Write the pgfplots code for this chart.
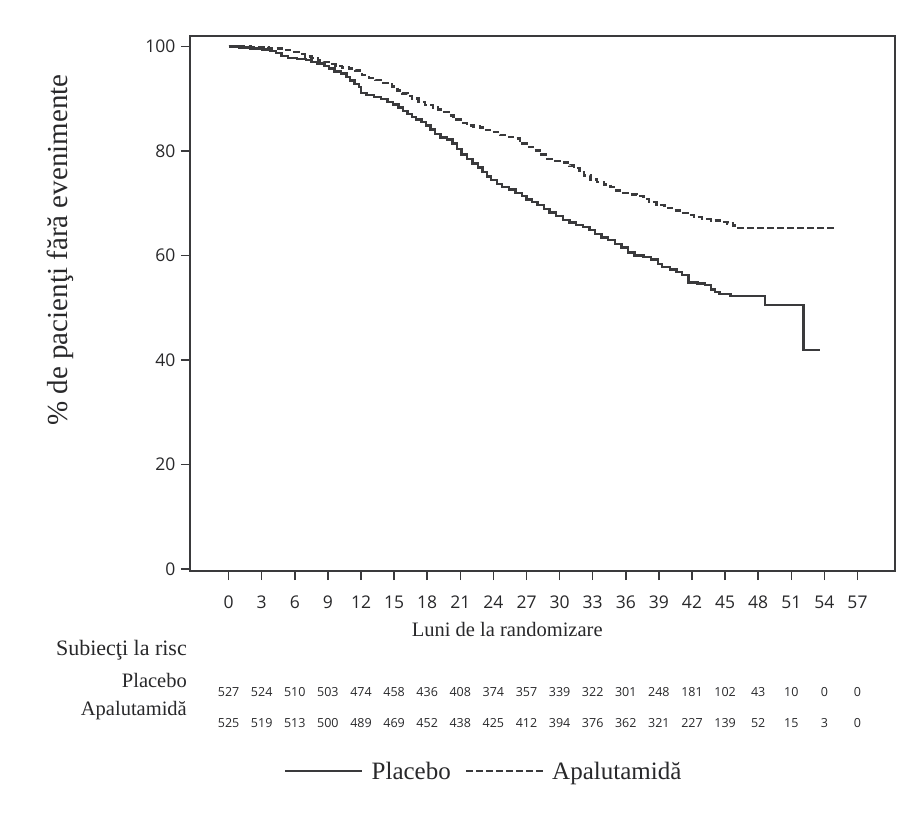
\documentclass[border=0pt]{standalone}
\usepackage{pgfplots}
\pgfplotsset{compat=1.18}
\usepackage{pgfplotstable}
\usepackage{fontspec}
\setmainfont{Liberation Serif}
\newfontfamily\numfont{Open Sans}

\definecolor{ink}{RGB}{58,58,60}
\definecolor{txt}{RGB}{40,40,42}

% Kaplan-Meier estimates (months, % event-free)
\pgfplotstableread{
m v
0 100
1.0 99.8
2.0 99.6
3.0 99.4
3.8 99.1
4.3 98.7
4.8 98.2
5.4 97.8
6.2 97.6
7.0 97.4
7.5 97.0
8.0 96.7
8.7 96.3
9.1 95.8
9.6 95.2
10.2 94.8
10.7 94.1
11.0 93.5
11.4 92.8
11.8 92.2
12.0 91.1
12.5 90.7
13.2 90.3
13.8 89.9
14.4 89.4
14.9 88.9
15.4 88.3
15.8 87.7
16.2 87.1
16.6 86.5
17.0 86.0
17.5 85.5
17.9 84.9
18.3 84.1
18.7 83.3
19.2 82.6
19.8 82.2
20.3 81.4
20.7 80.4
21.1 79.3
21.6 78.5
22.1 77.6
22.6 76.8
23.0 76.0
23.4 75.1
23.8 74.4
24.3 73.7
24.8 73.1
25.4 72.6
26.0 72.0
26.6 71.4
27.0 70.7
27.5 70.2
28.0 69.6
28.6 68.9
29.1 68.2
29.7 67.6
30.3 66.8
30.9 66.3
31.5 65.8
32.1 65.4
32.7 64.9
33.2 64.1
33.8 63.4
34.4 62.9
35.0 62.2
35.6 61.5
36.2 60.6
36.8 60.0
37.6 59.7
38.3 59.2
38.9 58.4
39.3 57.8
40.0 57.3
40.6 56.8
41.1 56.2
41.7 54.8
42.5 54.6
43.2 54.3
43.7 53.5
44.1 53.0
44.5 52.6
45.5 52.2
48.6 50.5
52.1 41.9
53.6 41.9
}\placebo

\pgfplotstableread{
m v
0 100
2.0 99.9
3.6 99.6
4.8 99.3
5.7 98.9
6.4 98.5
6.9 98.1
7.5 97.8
8.1 97.3
8.6 97.0
9.1 96.6
9.7 96.3
10.3 96.0
10.9 95.8
11.5 95.4
12.1 94.5
12.7 94.0
13.3 93.6
14.0 93.0
14.8 92.3
15.3 91.6
15.7 91.0
16.2 90.5
16.6 90.0
17.2 89.4
17.8 88.8
18.5 88.3
19.0 87.9
19.5 87.5
20.0 86.8
20.4 86.0
21.0 85.4
21.6 84.9
22.2 84.7
22.8 84.5
23.2 84.0
23.7 83.6
24.6 83.0
25.2 82.7
25.8 82.4
26.4 81.4
27.0 80.7
27.6 80.1
28.2 79.3
28.9 78.5
29.6 78.1
30.4 77.8
30.9 77.2
31.3 76.7
31.8 75.9
32.2 75.3
32.8 74.5
33.4 74.0
34.0 73.6
34.6 73.1
35.1 72.4
35.5 72.0
36.2 71.7
37.0 71.4
37.6 70.8
38.1 70.2
38.8 69.7
39.5 69.1
40.2 68.6
40.9 68.1
41.6 67.7
42.2 67.3
42.9 67.0
43.7 66.7
44.5 66.4
45.2 66.1
45.7 65.7
46.1 65.3
55.0 65.3
}\apalutamida

% Number at risk: month, placebo, apalutamida, row baselines
\pgfplotstableread{
m p a yp ya
0 527 525 -24.5 -30.4
3 524 519 -24.5 -30.4
6 510 513 -24.5 -30.4
9 503 500 -24.5 -30.4
12 474 489 -24.5 -30.4
15 458 469 -24.5 -30.4
18 436 452 -24.5 -30.4
21 408 438 -24.5 -30.4
24 374 425 -24.5 -30.4
27 357 412 -24.5 -30.4
30 339 394 -24.5 -30.4
33 322 376 -24.5 -30.4
36 301 362 -24.5 -30.4
39 248 321 -24.5 -30.4
42 181 227 -24.5 -30.4
45 102 139 -24.5 -30.4
48 43 52 -24.5 -30.4
51 10 15 -24.5 -30.4
54 0 3 -24.5 -30.4
57 0 0 -24.5 -30.4
}\risk

\begin{document}
\begin{tikzpicture}[x=1pt,y=1pt]
\path (0,0) rectangle (921,-816);
\begin{axis}[
  at={(190pt,-571pt)}, anchor=south west,
  scale only axis, width=705pt, height=535pt,
  xmin=-3.5, xmax=60.4, ymin=-0.4, ymax=102,
  xtick={0,3,...,57}, ytick={0,20,...,100},
  tick pos=left, tick align=outside,
  major tick length=9pt,
  axis line style={ink, line width=1.8pt},
  every tick/.style={ink, line width=1.5pt},
  /pgf/number format/assume math mode=true,
  ticklabel style={font=\numfont\fontsize{17.5}{17.5}\selectfont, text=txt},
  xticklabel style={yshift=-12pt},
  yticklabel style={xshift=-2pt},
  xlabel={Luni de la randomizare},
  xlabel style={at={(axis description cs:0.45,-0.110)}, anchor=center,
    font=\fontsize{20.5}{20.5}\selectfont, text=txt},
  ylabel={\% de pacienţi fără evenimente},
  ylabel style={at={(axis description cs:-0.184,0.6)}, anchor=center,
    font=\fontsize{29}{29}\selectfont, text=txt},
  clip=false,
  legend columns=2,
  legend style={at={(0.421,-0.374)}, anchor=center, draw=none, fill=none,
    font=\fontsize{25}{25}\selectfont, text=txt,
    nodes={inner xsep=8pt},
    /tikz/every even column/.append style={column sep=6pt}},
  legend image code/.code={\draw[#1] (0pt,0pt) -- (77pt,0pt);},
]
\addplot[const plot, ink, line width=2.4pt] table[x=m, y=v] {\placebo};
\addlegendentry{Placebo}
\addplot[const plot, ink, line width=2.4pt, dash pattern=on 6.5pt off 3.5pt] table[x=m, y=v] {\apalutamida};
\addlegendentry{Apalutamidă}

\addplot[draw=none, mark=none, forget plot, nodes near coords, point meta=explicit symbolic,
  every node near coord/.append style={anchor=base, inner sep=0pt, font=\numfont\fontsize{12.5}{12.5}\selectfont, text=txt}]
  table[x=m, y=yp, meta=p] {\risk};
\addplot[draw=none, mark=none, forget plot, nodes near coords, point meta=explicit symbolic,
  every node near coord/.append style={anchor=base, inner sep=0pt, font=\numfont\fontsize{12.5}{12.5}\selectfont, text=txt}]
  table[x=m, y=ya, meta=a] {\risk};
\end{axis}

% Row labels of the number-at-risk table
\begin{scope}[every node/.style={anchor=east, text=txt, inner sep=0pt}]
\node[font=\fontsize{22}{22}\selectfont] at (187,-650) {Subiecţi la risc};
\node[font=\fontsize{20.5}{20.5}\selectfont] at (187,-680) {Placebo};
\node[font=\fontsize{20.5}{20.5}\selectfont] at (187,-711) {Apalutamidă};
\end{scope}
\end{tikzpicture}
\end{document}
